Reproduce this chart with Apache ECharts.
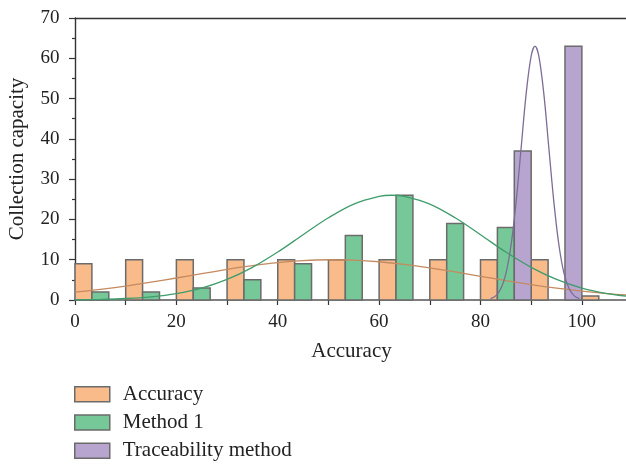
<!DOCTYPE html>
<html>
<head>
<meta charset="utf-8">
<script src="https://cdn.jsdelivr.net/npm/echarts@6/dist/echarts.min.js"></script>
<style>html,body{margin:0;padding:0;background:#fff;overflow:hidden}#c{width:626px;height:468px}</style>
</head>
<body>
<div id="c"></div>
<script>
// Bin starts (bin width 10) and bar heights per series
const bins = [0, 10, 20, 30, 40, 50, 60, 70, 80, 90, 100];
const accuracy = [9, 10, 10, 10, 10, 10, 10, 10, 10, 10, 1];
const method1 = [2, 2, 3, 5, 9, 16, 26, 19, 18, 0, 0];
const traceability = [0, 0, 0, 0, 0, 0, 0, 0, 37, 63, 0];

// Fitted curves: [x, y]
const accuracyFit = [[0,1.95],[5,2.64],[10,3.47],[15,4.43],[20,5.46],[25,6.54],[30,7.58],[35,8.51],[40,9.27],[45,9.78],[50,9.99],[55,9.9],[60,9.5],[65,8.84],[70,7.97],[75,6.96],[80,5.89],[85,4.83],[90,3.84],[95,2.96],[100,2.21],[105,1.6],[110,1.12]];
const method1Fit = [[0,0.06],[5,0.16],[10,0.37],[15,0.8],[20,1.6],[25,2.96],[30,5.1],[35,8.1],[40,11.9],[45,16.2],[50,20.4],[55,23.8],[60,25.7],[62.5,26],[65,25.7],[70,23.8],[75,20.4],[80,16.2],[85,11.9],[90,8.1],[95,5.1],[100,2.96],[105,1.6],[110,0.8]];
const traceabilityFit = [[82,0.33],[83,1.03],[84,2.77],[85,6.5],[86,13.4],[87,24.0],[88,37.5],[89,51.1],[90,60.6],[90.75,63],[91.5,60.6],[92.5,51.1],[93.5,37.5],[94.5,24.0],[95.5,13.4],[96.5,6.5],[97.5,2.77],[98.5,1.03],[99.5,0.33]];

const xTicks = [0, 20, 40, 60, 80, 100];
const seriesNames = ['Accuracy', 'Method 1', 'Traceability method'];

const BIN_W = 10;
function barData(values, slot) {
  const out = [];
  values.forEach((v, i) => {
    if (v > 0) {
      const s = bins[i] + slot * BIN_W / 3;
      out.push([s, s + BIN_W / 3, v]);
    }
  });
  return out;
}
function renderBar(params, api) {
  const p0 = api.coord([api.value(0), api.value(2)]);
  const p1 = api.coord([api.value(1), 0]);
  return {
    type: 'rect',
    shape: { x: p0[0], y: p0[1], width: p1[0] - p0[0], height: p1[1] - p0[1] },
    style: api.style()
  };
}
const fills = ['#F9BB8A', '#77C898', '#B7A5D0'];
const curveColors = ['#C48A60', '#3F9C6B', '#7C6C96'];
const border = '#6b6b6b';
const font = '"Liberation Serif", "DejaVu Serif", serif';

const chart = echarts.init(document.getElementById('c'));
const barSeries = [accuracy, method1, traceability].map((vals, k) => ({
  type: 'custom',
  name: seriesNames[k],
  renderItem: renderBar,
  encode: { x: [0, 1], y: 2 },
  data: barData(vals, k),
  itemStyle: { color: fills[k], borderColor: border, borderWidth: 1.5 },
  z: 2
}));
const lineSeries = [accuracyFit, method1Fit, traceabilityFit].map((d, k) => ({
  type: 'line',
  name: seriesNames[k] + ' fit',
  data: d,
  smooth: 0.35,
  showSymbol: false,
  lineStyle: { color: curveColors[k], width: 1.3 },
  itemStyle: { color: curveColors[k] },
  z: 5,
  clip: true
}));

const legends = seriesNames.map((n, k) => ({
  orient: 'vertical',
  left: 74,
  top: 383.7 + k * 28.3,
  padding: 0,
  itemWidth: 35,
  itemHeight: 15,
  icon: 'rect',
  data: [{ name: n, itemStyle: { color: fills[k], borderColor: border, borderWidth: 1.5 } }],
  textStyle: { fontFamily: font, fontSize: 21, color: '#222', padding: [0, 0, 3, 8] }
}));

chart.setOption({
  animation: false,
  grid: { left: 75, top: 18, width: 553, height: 282, outerBoundsMode: 'none', containLabel: false },
  legend: legends,
  xAxis: [{
    type: 'value',
    min: 0,
    max: 109.1,
    interval: 10,
    name: 'Accuracy',
    nameLocation: 'middle',
    nameGap: 41,
    nameTextStyle: { fontFamily: font, fontSize: 21, color: '#222' },
    axisLine: { show: true, lineStyle: { color: '#555', width: 1.6 } },
    axisTick: { show: true, length: 5, lineStyle: { color: '#333', width: 1.2 } },
    axisLabel: {
      fontFamily: font, fontSize: 19, color: '#222', margin: 13,
      formatter: v => (xTicks.indexOf(v) >= 0 ? String(v) : '')
    },
    splitLine: { show: false }
  }, {
    type: 'value',
    position: 'top',
    min: 0,
    max: 109.1,
    axisLine: { show: true, onZero: false, lineStyle: { color: '#333', width: 1.4 } },
    axisTick: { show: false },
    axisLabel: { show: false },
    splitLine: { show: false }
  }],
  yAxis: {
    type: 'value',
    min: 0,
    max: 70,
    interval: 10,
    name: 'Collection capacity',
    nameLocation: 'middle',
    nameGap: 47,
    nameTextStyle: { fontFamily: font, fontSize: 21, color: '#222' },
    axisLine: { show: true, lineStyle: { color: '#333', width: 1.4 } },
    axisTick: { show: true, length: 6, lineStyle: { color: '#333', width: 1.2 } },
    minorTick: { show: true, splitNumber: 2, length: 3, lineStyle: { color: '#333', width: 1.2 } },
    axisLabel: { fontFamily: font, fontSize: 19, color: '#222', margin: 15.5 },
    splitLine: { show: false }
  },
  series: barSeries.concat(lineSeries)
});
</script>
</body>
</html>
